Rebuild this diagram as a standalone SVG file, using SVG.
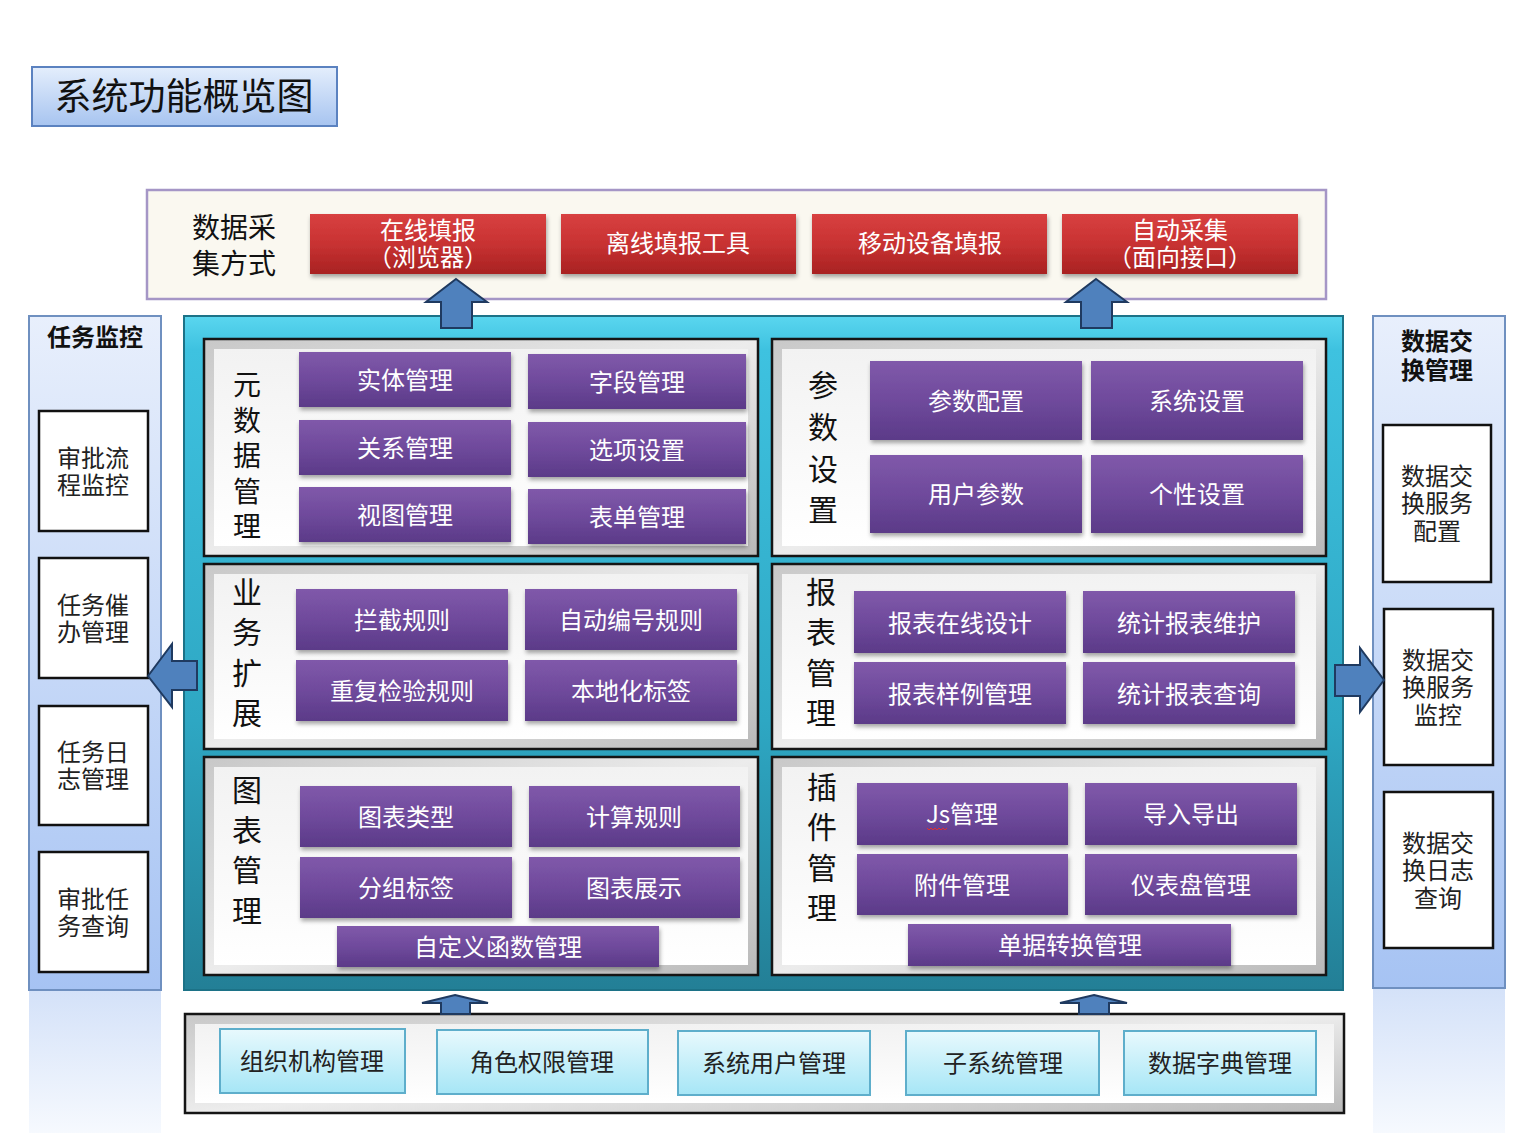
<svg xmlns="http://www.w3.org/2000/svg" width="1526" height="1133" viewBox="0 0 1526 1133">
<defs>
<linearGradient id="gTitle" x1="0" y1="0" x2="0" y2="1"><stop offset="0" stop-color="#e4eefc"/><stop offset="1" stop-color="#a7c4f0"/></linearGradient>
<linearGradient id="gRed" x1="0" y1="0" x2="0" y2="1"><stop offset="0" stop-color="#d84040"/><stop offset="0.5" stop-color="#c83232"/><stop offset="1" stop-color="#a82222"/></linearGradient>
<linearGradient id="gPurple" x1="0" y1="0" x2="0" y2="1"><stop offset="0" stop-color="#8059aa"/><stop offset="0.5" stop-color="#6f4a9c"/><stop offset="1" stop-color="#5b3a88"/></linearGradient>
<linearGradient id="gTeal" x1="0" y1="0" x2="0" y2="1"><stop offset="0" stop-color="#5ad6ef"/><stop offset="0.05" stop-color="#3ec2e0"/><stop offset="0.6" stop-color="#2ea7c3"/><stop offset="1" stop-color="#237f96"/></linearGradient>
<linearGradient id="gSide" x1="0" y1="0" x2="0" y2="1"><stop offset="0" stop-color="#e8effc"/><stop offset="1" stop-color="#a6c3f3"/></linearGradient>
<linearGradient id="gRefl" x1="0" y1="0" x2="0" y2="1"><stop offset="0" stop-color="#c9daf7"/><stop offset="1" stop-color="#f4f8fe"/></linearGradient>
<linearGradient id="gCyan" x1="0" y1="0" x2="0" y2="1"><stop offset="0" stop-color="#e8f9fd"/><stop offset="1" stop-color="#a6e6f6"/></linearGradient>
<linearGradient id="gBevel" x1="0" y1="0" x2="1" y2="1"><stop offset="0" stop-color="#c8c8c8"/><stop offset="0.5" stop-color="#ececec"/><stop offset="1" stop-color="#b8b8b8"/></linearGradient>
<linearGradient id="gInner" x1="0" y1="0" x2="0" y2="1"><stop offset="0" stop-color="#f2f2f2"/><stop offset="1" stop-color="#ffffff"/></linearGradient>
<filter id="sh" x="-5%" y="-10%" width="110%" height="130%"><feDropShadow dx="1" dy="3" stdDeviation="2" flood-color="#000" flood-opacity="0.35"/></filter>
</defs>
<style>
text{font-family:"Noto Sans CJK SC","Noto Sans",sans-serif;text-anchor:middle}
.title{font-size:37px;fill:#111}
.lbl{font-size:28px;fill:#111}
.vl{font-size:30px;fill:#111}
.wt{font-size:24px;fill:#fff}
.bt{font-size:24px;fill:#222}
.hd{font-size:24px;fill:#111;font-weight:bold}
.red{fill:url(#gRed);filter:url(#sh)}
.pur{fill:url(#gPurple);filter:url(#sh)}
.cyan{fill:url(#gCyan);stroke:#5eaecb;stroke-width:2}
.wbox{fill:#fff;stroke:#111;stroke-width:2.5}
.panel{fill:url(#gBevel);stroke:#151515;stroke-width:2.5}
.pin{fill:url(#gInner)}
.arr{fill:#4f81bd;stroke:#1f3a60;stroke-width:2}
</style>
<rect width="1526" height="1133" fill="#fff"/>

<g id="title">
<rect x="32" y="67" width="305" height="59" fill="url(#gTitle)" stroke="#5b82c0" stroke-width="2"/>
<text class="title" x="184" y="110">系统功能概览图</text>
</g>

<g id="data-collection">
<rect x="147" y="190" width="1179" height="109" fill="#faf8f0" stroke="#a596c6" stroke-width="2.5"/>
<text class="lbl" x="234" y="238">数据采<tspan x="234" dy="36">集方式</tspan></text>
</g>
<g id="dc-online"><rect class="red" x="310" y="214" width="236" height="60"/><text class="wt" x="428" y="239">在线填报<tspan x="428" dy="27">（浏览器）</tspan></text></g>
<g id="dc-offline"><rect class="red" x="561" y="214" width="235" height="60"/><text class="wt" x="678" y="252">离线填报工具</text></g>
<g id="dc-mobile"><rect class="red" x="812" y="214" width="235" height="60"/><text class="wt" x="930" y="252">移动设备填报</text></g>
<g id="dc-auto"><rect class="red" x="1062" y="214" width="236" height="60"/><text class="wt" x="1180" y="239">自动采集<tspan x="1180" dy="27">（面向接口）</tspan></text></g>

<g id="main-frame">
<rect x="184" y="316" width="1159" height="674" fill="url(#gTeal)" stroke="#1c7287" stroke-width="2"/>
</g>

<g id="panel-metadata">
<rect class="panel" x="204" y="339" width="554" height="217"/><rect class="pin" x="214" y="349" width="534" height="197"/>
<text class="lbl" x="247" y="395">元<tspan x="247" dy="35.5">数</tspan><tspan x="247" dy="35.5">据</tspan><tspan x="247" dy="35.5">管</tspan><tspan x="247" dy="35.5">理</tspan></text>
<rect class="pur" x="299" y="352" width="212" height="55"/><text class="wt" x="405" y="389">实体管理</text>
<rect class="pur" x="528" y="354" width="218" height="55"/><text class="wt" x="637" y="391">字段管理</text>
<rect class="pur" x="299" y="420" width="212" height="55"/><text class="wt" x="405" y="457">关系管理</text>
<rect class="pur" x="528" y="422" width="218" height="55"/><text class="wt" x="637" y="459">选项设置</text>
<rect class="pur" x="299" y="487" width="212" height="55"/><text class="wt" x="405" y="524">视图管理</text>
<rect class="pur" x="528" y="489" width="218" height="55"/><text class="wt" x="637" y="526">表单管理</text>
</g>

<g id="panel-params">
<rect class="panel" x="772" y="339" width="554" height="217"/><rect class="pin" x="782" y="349" width="534" height="197"/>
<text class="vl" x="823" y="396">参<tspan x="823" dy="42">数</tspan><tspan x="823" dy="42">设</tspan><tspan x="823" dy="41">置</tspan></text>
<rect class="pur" x="870" y="361" width="212" height="79"/><text class="wt" x="976" y="410">参数配置</text>
<rect class="pur" x="1091" y="361" width="212" height="79"/><text class="wt" x="1197" y="410">系统设置</text>
<rect class="pur" x="870" y="455" width="212" height="78"/><text class="wt" x="976" y="503">用户参数</text>
<rect class="pur" x="1091" y="455" width="212" height="78"/><text class="wt" x="1197" y="503">个性设置</text>
</g>

<g id="panel-business">
<rect class="panel" x="204" y="564" width="554" height="185"/><rect class="pin" x="214" y="574" width="534" height="165"/>
<text class="vl" x="247" y="603">业<tspan x="247" dy="40">务</tspan><tspan x="247" dy="41">扩</tspan><tspan x="247" dy="40">展</tspan></text>
<rect class="pur" x="296" y="589" width="212" height="61"/><text class="wt" x="402" y="629">拦截规则</text>
<rect class="pur" x="525" y="589" width="212" height="61"/><text class="wt" x="631" y="629">自动编号规则</text>
<rect class="pur" x="296" y="660" width="212" height="61"/><text class="wt" x="402" y="700">重复检验规则</text>
<rect class="pur" x="525" y="660" width="212" height="61"/><text class="wt" x="631" y="700">本地化标签</text>
</g>

<g id="panel-report">
<rect class="panel" x="772" y="564" width="554" height="185"/><rect class="pin" x="782" y="574" width="534" height="165"/>
<text class="vl" x="821" y="603">报<tspan x="821" dy="40">表</tspan><tspan x="821" dy="41">管</tspan><tspan x="821" dy="40">理</tspan></text>
<rect class="pur" x="854" y="591" width="212" height="62"/><text class="wt" x="960" y="632">报表在线设计</text>
<rect class="pur" x="1083" y="591" width="212" height="62"/><text class="wt" x="1189" y="632">统计报表维护</text>
<rect class="pur" x="854" y="662" width="212" height="62"/><text class="wt" x="960" y="703">报表样例管理</text>
<rect class="pur" x="1083" y="662" width="212" height="62"/><text class="wt" x="1189" y="703">统计报表查询</text>
</g>

<g id="panel-chart">
<rect class="panel" x="204" y="757" width="554" height="218"/><rect class="pin" x="214" y="767" width="534" height="198"/>
<text class="vl" x="247" y="801">图<tspan x="247" dy="40">表</tspan><tspan x="247" dy="40">管</tspan><tspan x="247" dy="41">理</tspan></text>
<rect class="pur" x="300" y="786" width="212" height="61"/><text class="wt" x="406" y="826">图表类型</text>
<rect class="pur" x="529" y="786" width="211" height="61"/><text class="wt" x="634" y="826">计算规则</text>
<rect class="pur" x="300" y="857" width="212" height="61"/><text class="wt" x="406" y="897">分组标签</text>
<rect class="pur" x="529" y="857" width="211" height="61"/><text class="wt" x="634" y="897">图表展示</text>
<rect class="pur" x="337" y="926" width="322" height="41"/><text class="wt" x="498" y="956">自定义函数管理</text>
</g>

<g id="panel-plugin">
<rect class="panel" x="772" y="757" width="554" height="218"/><rect class="pin" x="782" y="767" width="534" height="198"/>
<text class="vl" x="822" y="798">插<tspan x="822" dy="40">件</tspan><tspan x="822" dy="41">管</tspan><tspan x="822" dy="40">理</tspan></text>
<rect class="pur" x="857" y="783" width="211" height="62"/><text class="wt" x="962" y="823">Js管理</text>
<path d="M927 828 l2 2 l2 -2 l2 2 l2 -2 l2 2 l2 -2 l2 2 l2 -2 l2 2 l2 -2" fill="none" stroke="#e03030" stroke-width="1"/>
<rect class="pur" x="1085" y="783" width="212" height="62"/><text class="wt" x="1191" y="823">导入导出</text>
<rect class="pur" x="857" y="854" width="211" height="61"/><text class="wt" x="962" y="894">附件管理</text>
<rect class="pur" x="1085" y="854" width="212" height="61"/><text class="wt" x="1191" y="894">仪表盘管理</text>
<rect class="pur" x="908" y="924" width="323" height="42"/><text class="wt" x="1070" y="954">单据转换管理</text>
</g>

<g id="task-monitor">
<rect x="29" y="990" width="132" height="143" fill="url(#gRefl)" opacity="0.8"/>
<rect x="29" y="316" width="132" height="674" fill="url(#gSide)" stroke="#6f90c0" stroke-width="2"/>
<text class="hd" x="95" y="346">任务监控</text>
<rect class="wbox" x="39" y="411" width="109" height="120"/><text class="bt" x="93" y="467">审批流<tspan x="93" dy="27">程监控</tspan></text>
<rect class="wbox" x="39" y="558" width="109" height="120"/><text class="bt" x="93" y="614">任务催<tspan x="93" dy="27">办管理</tspan></text>
<rect class="wbox" x="39" y="706" width="109" height="119"/><text class="bt" x="93" y="761">任务日<tspan x="93" dy="27">志管理</tspan></text>
<rect class="wbox" x="39" y="852" width="109" height="120"/><text class="bt" x="93" y="908">审批任<tspan x="93" dy="27">务查询</tspan></text>
</g>

<g id="data-exchange">
<rect x="1373" y="988" width="132" height="145" fill="url(#gRefl)" opacity="0.8"/>
<rect x="1373" y="316" width="132" height="672" fill="url(#gSide)" stroke="#6f90c0" stroke-width="2"/>
<text class="hd" x="1437" y="350">数据交<tspan x="1437" dy="29">换管理</tspan></text>
<rect class="wbox" x="1383" y="425" width="108" height="157"/><text class="bt" x="1437" y="485">数据交<tspan x="1437" dy="27">换服务</tspan><tspan x="1437" dy="28">配置</tspan></text>
<rect class="wbox" x="1384" y="609" width="109" height="156"/><text class="bt" x="1438" y="669">数据交<tspan x="1438" dy="27">换服务</tspan><tspan x="1438" dy="28">监控</tspan></text>
<rect class="wbox" x="1384" y="792" width="109" height="156"/><text class="bt" x="1438" y="852">数据交<tspan x="1438" dy="27">换日志</tspan><tspan x="1438" dy="28">查询</tspan></text>
</g>

<g id="base-services">
<rect class="panel" x="185" y="1014" width="1159" height="99"/><rect class="pin" x="195" y="1024" width="1139" height="79"/>
<rect class="cyan" x="220" y="1029" width="185" height="64"/><text class="bt" x="312" y="1070">组织机构管理</text>
<rect class="cyan" x="437" y="1030" width="211" height="64"/><text class="bt" x="542" y="1071">角色权限管理</text>
<rect class="cyan" x="678" y="1031" width="192" height="64"/><text class="bt" x="774" y="1072">系统用户管理</text>
<rect class="cyan" x="906" y="1031" width="193" height="64"/><text class="bt" x="1003" y="1072">子系统管理</text>
<rect class="cyan" x="1124" y="1031" width="192" height="64"/><text class="bt" x="1220" y="1072">数据字典管理</text>
</g>

<g id="connectors">
<path class="arr" d="M456 279 L487 302 L472 302 L472 328 L441 328 L441 302 L426 302 Z"/>
<path class="arr" d="M1096 279 L1127 302 L1112 302 L1112 328 L1081 328 L1081 302 L1066 302 Z"/>
<path class="arr" d="M148 676 L172 644 L172 661 L197 661 L197 690 L172 690 L172 707 Z"/>
<path class="arr" d="M1384 680 L1360 648 L1360 665 L1335 665 L1335 696 L1360 696 L1360 712 Z"/>
<path class="arr" d="M455 995 L488 1003 L470 1003 L470 1014 L441 1014 L441 1003 L422 1003 Z"/>
<path class="arr" d="M1094 995 L1127 1003 L1109 1003 L1109 1014 L1079 1014 L1079 1003 L1060 1003 Z"/>
</g>
</svg>
